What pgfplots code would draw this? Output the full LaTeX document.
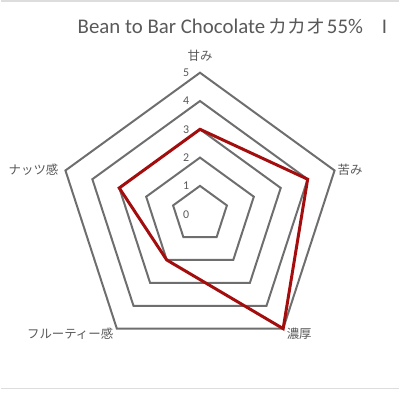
\documentclass[border=0pt]{standalone}
\usepackage{pgfplots}
\pgfplotsset{compat=1.18}
\usepackage{fontspec}
\setmainfont{Carlito}
\newfontfamily\cjk{Noto Sans CJK JP}
\definecolor{gridgray}{HTML}{6E6E6E}
\definecolor{txtgray}{HTML}{595959}
\definecolor{linered}{HTML}{A30D0D}
\definecolor{frame}{HTML}{DDDDDD}
\begin{document}
\begin{tikzpicture}
\begin{axis}[
  width=400bp, height=400bp, scale only axis,
  xmin=-7.042, xmax=7.042, ymin=-6.514, ymax=7.570,
  hide axis, clip=false,
]
% rings 1..5
\pgfplotsinvokeforeach{1,2,3,4,5}{
  \addplot[data cs=polar, gridgray, line width=2bp, mark=none]
    coordinates {(90,#1) (18,#1) (-54,#1) (-126,#1) (162,#1) (90,#1) (18,#1)};
}
% data: 甘み, 苦み, 濃厚, フルーティー感, ナッツ感
\addplot[data cs=polar, linered, line width=3bp, mark=none]
  coordinates {(90,3) (18,4) (-54,5) (-126,2) (162,3) (90,3) (18,4)};

% scale labels
\pgfplotsinvokeforeach{0,1,2,3,4,5}{
  \node[anchor=east, txtgray, font=\fontsize{12}{14}\selectfont, inner sep=0pt]
    at (axis cs:-0.38,#1) {#1};
}
% category labels
\node[txtgray, font=\cjk\fontsize{12.5}{14}\selectfont, inner sep=0pt] at (axis cs:0,5.58) {甘み};
\node[anchor=west, txtgray, font=\cjk\fontsize{12.5}{14}\selectfont, inner sep=0pt] at (axis cs:4.86,1.58) {苦み};
\node[anchor=west, txtgray, font=\cjk\fontsize{12.5}{14}\selectfont, inner sep=0pt] at (axis cs:3.06,-4.23) {濃厚};
\node[anchor=east, txtgray, font=\cjk\fontsize{12.5}{14}\selectfont, inner sep=0pt] at (axis cs:-3.06,-4.23) {フルーティー感};
\node[anchor=east, txtgray, font=\cjk\fontsize{12.5}{14}\selectfont, inner sep=0pt] at (axis cs:-5.0,1.58) {ナッツ感};

% title
\node[anchor=west, txtgray, font=\fontsize{21}{24}\selectfont, inner sep=0pt]
  at (axis cs:-4.33,6.65) {Bean to Bar Chocolate\hspace{0.15em}{\cjk\fontsize{19}{22}\selectfont カカオ}\hspace{0.1em}55\%\hspace{0.9em}I};

% frame lines
\draw[frame, line width=1.5bp] (rel axis cs:0,0.997) -- (rel axis cs:1,0.997);
\draw[frame, line width=1.5bp] (axis cs:-7.042,-6.16) -- (axis cs:7.042,-6.16);
\path (rel axis cs:0,0) rectangle (rel axis cs:1,1);
\end{axis}
\end{tikzpicture}
\end{document}
